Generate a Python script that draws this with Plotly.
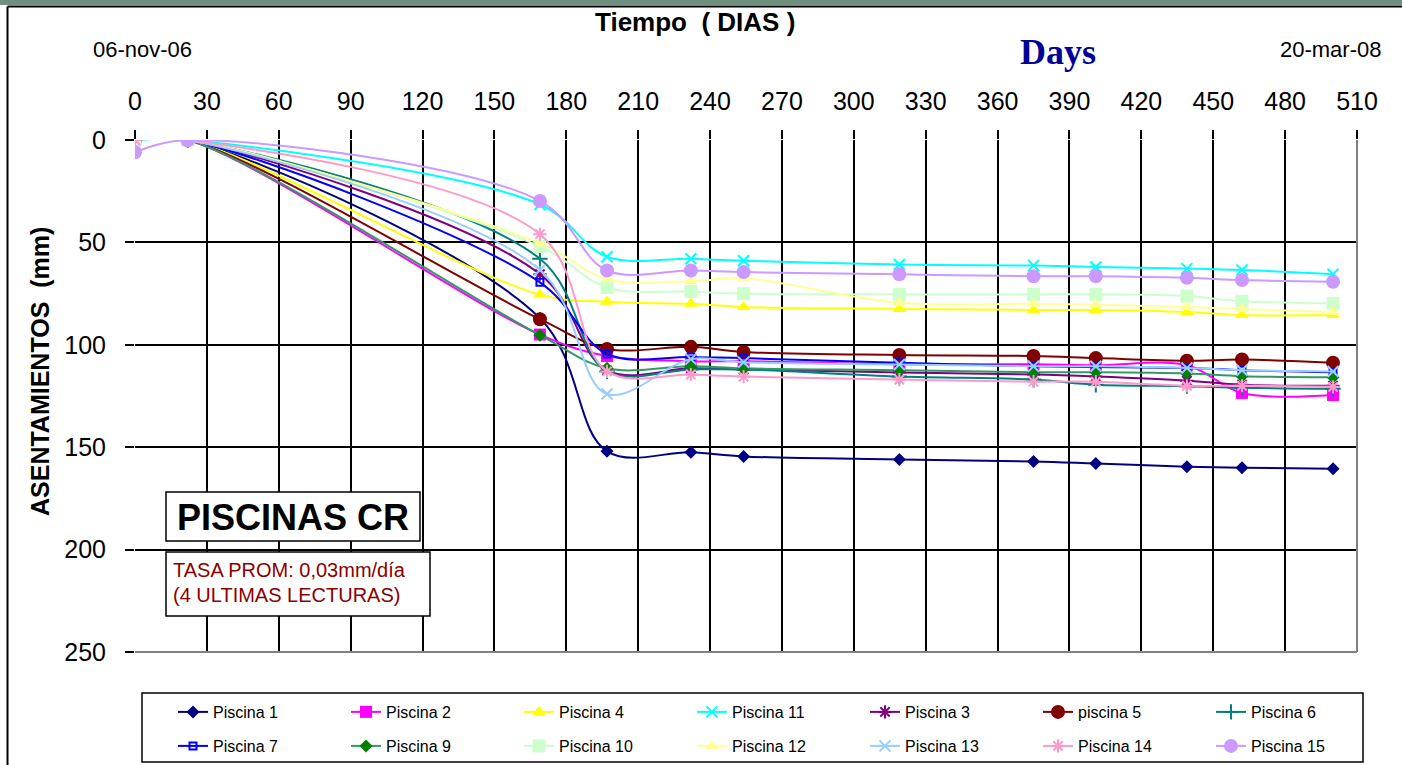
import plotly.graph_objects as go

# Survey days since 06-nov-06 and settlement readings (mm) for each pool
days = [0, 22, 169, 197, 232, 254, 319, 375, 401, 439, 462, 500]

piscina_1 = [0, 0, 87, 152, 152.5, 154.5, 156, 157, 158, 159.5, 160, 160.5]
piscina_2 = [0, 0, 95, 105.5, 108, 108, 109.5, 109.5, 110, 110, 123.5, 124.5]
piscina_4 = [0, 0, 75.5, 79, 80, 81.5, 82.5, 83, 83, 84, 85.5, 85.5]
piscina_11 = [0, 0, 31.5, 57, 58, 59, 60.8, 61.3, 62, 62.8, 63.5, 65.5]
piscina_3 = [0, 0, 65.5, 112.5, 111.5, 112, 113.5, 114.5, 115.5, 117.5, 119.5, 120]
piscina_5 = [0, 0, 87.5, 102, 101, 103.5, 105, 105.5, 106.5, 107.8, 107.2, 108.8]
piscina_6 = [0, 0, 58, 113, 112, 112, 115.5, 117, 119.5, 120.2, 121, 121.5]
piscina_7 = [0, 0, 69.5, 104.5, 106, 106.5, 108.8, 110.5, 110.8, 111.3, 112.4, 113.4]
piscina_9 = [0, 0, 95.3, 111.5, 110.5, 111.5, 112.4, 113.4, 113.4, 114, 115.3, 115.8]
piscina_10 = [0, 0, 52, 72, 74, 75, 75.4, 75.4, 75.4, 76.2, 78.7, 79.8]
piscina_12 = [0, 0, 50.5, 68, 69, 67.5, 79.5, 80, 80.5, 81.5, 82.5, 84]
piscina_13 = [0, 0, 63.5, 124, 107, 108.5, 109.6, 110.5, 110.5, 111.3, 112.4, 113]
piscina_14 = [0, 0, 46, 113, 114.5, 115.5, 117, 118, 118, 120, 120, 120.5]
piscina_15 = [6, 0, 29.8, 63.7, 63.7, 64.5, 65.6, 66.5, 66.5, 67.3, 68.4, 69.2]

x_ticks = list(range(0, 511, 30))
y_ticks = list(range(0, 251, 50))

FONT = "Liberation Sans, Arial, sans-serif"

# Figure geometry (pixels)
W, H = 1402, 765
L, R, T, B = 135, 45, 140, 113
PW, PH = W - L - R, H - T - B


def px(xp):
    return (xp - L) / PW


def py(yp):
    return (H - B - yp) / PH


# name, values, line colour, marker symbol, marker size, marker colour, legend
series = [
    ("Piscina 1", piscina_1, "#000080", "diamond", 10, "#000080", "legend"),
    ("Piscina 2", piscina_2, "#FF00FF", "square", 12, "#FF00FF", "legend"),
    ("Piscina 4", piscina_4, "#FFFF00", "triangle-up", 12, "#FFFF00", "legend"),
    ("Piscina 11", piscina_11, "#00FFFF", "x-thin", 11, "#00FFFF", "legend"),
    ("Piscina 3", piscina_3, "#800080", "asterisk", 11, "#800080", "legend"),
    ("piscina 5", piscina_5, "#800000", "circle", 14, "#800000", "legend"),
    ("Piscina 6", piscina_6, "#008080", "cross-thin", 11, "#008080", "legend"),
    ("Piscina 7", piscina_7, "#0000FF", "square-open", 7, "#0000FF", "legend2"),
    ("Piscina 9", piscina_9, "#339966", "diamond", 10, "#008000", "legend2"),
    ("Piscina 10", piscina_10, "#CCFFCC", "square", 13, "#CCFFCC", "legend2"),
    ("Piscina 12", piscina_12, "#FFFF99", "triangle-up", 12, "#FFFF99", "legend2"),
    ("Piscina 13", piscina_13, "#99CCFF", "x-thin", 11, "#99CCFF", "legend2"),
    ("Piscina 14", piscina_14, "#FF99CC", "asterisk", 11, "#FF99CC", "legend2"),
    ("Piscina 15", piscina_15, "#CC99FF", "circle", 14, "#CC99FF", "legend2"),
]

fig = go.Figure()
for name, vals, lc, sym, size, mc, leg in series:
    line_only = sym in ("x-thin", "asterisk", "cross-thin", "square-open")
    fig.add_trace(go.Scatter(
        x=days, y=vals, name=name, mode="lines+markers",
        line=dict(color=lc, width=2, shape="spline", smoothing=1),
        marker=dict(symbol=sym, size=size, color=mc,
                    line=dict(width=2 if line_only else 0, color=mc)),
        legend=leg, hoverinfo="skip",
    ))

legend_common = dict(
    orientation="h", xanchor="left", yanchor="middle",
    entrywidth=128, entrywidthmode="pixels",
    bgcolor="rgba(0,0,0,0)", borderwidth=0,
    font=dict(family=FONT, size=16, color="black"),
    itemclick=False, itemdoubleclick=False,
)

shapes = [
    # window band and outer chart frame (top and left edges)
    dict(type="rect", xref="paper", yref="paper", x0=px(0), x1=px(W + 20),
         y0=py(0), y1=py(5), fillcolor="#6f8f7f", line=dict(width=0), layer="below"),
    dict(type="line", xref="paper", yref="paper", x0=px(7.5), x1=px(W + 20),
         y0=py(6.5), y1=py(6.5), line=dict(color="black", width=2), layer="below"),
    dict(type="line", xref="paper", yref="paper", x0=px(7.5), x1=px(7.5),
         y0=py(6.5), y1=py(H + 40), line=dict(color="black", width=2), layer="below"),
    # grey plot-area border on right and bottom
    dict(type="line", xref="paper", yref="paper", x0=1, x1=1, y0=0, y1=1,
         line=dict(color="#808080", width=2), layer="above"),
    dict(type="line", xref="paper", yref="paper", x0=0, x1=1, y0=0, y1=0,
         line=dict(color="#808080", width=2), layer="above"),
    # legend box
    dict(type="rect", xref="paper", yref="paper", x0=px(142), x1=px(1363),
         y0=py(762), y1=py(693), line=dict(color="black", width=1.5),
         fillcolor="white", layer="below"),
    # label boxes
    dict(type="rect", xref="paper", yref="paper", x0=px(166), x1=px(420),
         y0=py(541), y1=py(492), line=dict(color="black", width=1.5),
         fillcolor="white", layer="above"),
    dict(type="rect", xref="paper", yref="paper", x0=px(166), x1=px(430),
         y0=py(616), y1=py(552), line=dict(color="black", width=1.5),
         fillcolor="white", layer="above"),
]

annotations = [
    dict(text="<b>Tiempo \u00a0( DIAS )</b>", x=px(695), y=py(22),
         font=dict(family=FONT, size=26, color="black")),
    dict(text="06-nov-06", x=px(142.5), y=py(49),
         font=dict(family=FONT, size=22, color="black")),
    dict(text="20-mar-08", x=px(1330), y=py(49),
         font=dict(family=FONT, size=22, color="black")),
    dict(text="<b>Days</b>", x=px(1058), y=py(52),
         font=dict(family="Liberation Serif, Times New Roman, serif", size=36,
                   color="#000099")),
    dict(text="<b>ASENTAMIENTOS \u00a0(mm)</b>", x=px(40), y=py(372), textangle=-90,
         font=dict(family=FONT, size=25, color="black")),
    dict(text="<b>PISCINAS CR</b>", x=px(293), y=py(517),
         font=dict(family=FONT, size=36, color="black")),
    dict(text="TASA PROM: 0,03mm/día", x=px(171), y=py(570), xanchor="left",
         font=dict(family=FONT, size=20, color="#8B0000")),
    dict(text="(4 ULTIMAS LECTURAS)", x=px(171), y=py(595), xanchor="left",
         font=dict(family=FONT, size=20, color="#8B0000")),
]
for a in annotations:
    a.setdefault("xanchor", "center")
    a.setdefault("yanchor", "middle")
    a.update(xref="paper", yref="paper", showarrow=False)

fig.update_layout(
    width=W, height=H,
    margin=dict(l=L, r=R, t=T, b=B, pad=0, autoexpand=False),
    paper_bgcolor="white", plot_bgcolor="white",
    showlegend=True,
    legend=dict(legend_common, x=px(173), y=py(712)),
    legend2=dict(legend_common, x=px(173), y=py(746)),
    shapes=shapes, annotations=annotations,
    hovermode=False,
    xaxis=dict(
        range=[0, 510], side="top", tickvals=x_ticks,
        showgrid=True, gridcolor="black", gridwidth=2,
        ticks="outside", ticklen=9, tickwidth=2, tickcolor="black",
        ticklabelstandoff=10,
        tickfont=dict(family=FONT, size=25, color="black"),
        zeroline=False, showline=False, fixedrange=True,
    ),
    yaxis=dict(
        range=[250, 0], tickvals=y_ticks,
        showgrid=True, gridcolor="black", gridwidth=2,
        ticks="outside", ticklen=9, tickwidth=2, tickcolor="black",
        ticklabelstandoff=14,
        tickfont=dict(family=FONT, size=25, color="black"),
        zeroline=False, showline=False, fixedrange=True,
    ),
)

fig.write_html("out.html")
